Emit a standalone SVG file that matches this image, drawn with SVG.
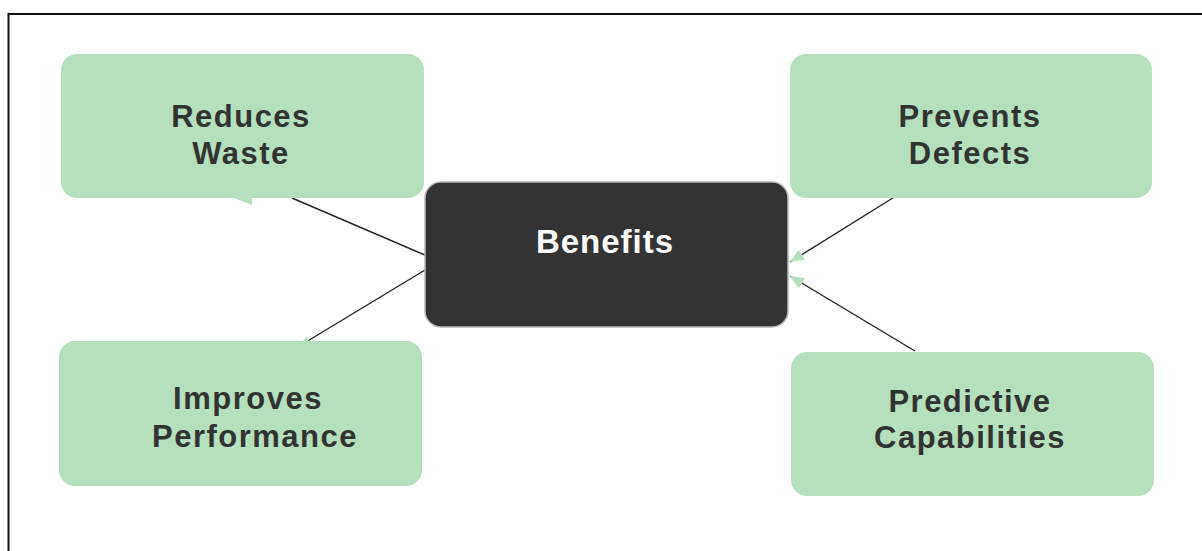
<svg xmlns="http://www.w3.org/2000/svg" width="1202" height="551" viewBox="0 0 1202 551">
  <style>
    .leaf rect { fill: #b6e0bd; }
    .leaf text, .hub text { font-family: "Liberation Sans", Arial, sans-serif; font-weight: bold; text-anchor: middle; }
    .leaf text { font-size: 31px; fill: #333333; letter-spacing: 1.5px; }
    .hub rect { fill: #333333; stroke: #b8b8b8; stroke-width: 1.5; }
    .hub text { font-size: 33px; fill: #ffffff; letter-spacing: 1px; }
    .link { stroke: #222222; stroke-width: 1.4; fill: none; }
    .tip { fill: #b6e0bd; }
  </style>
  <defs>
    <marker id="arrow" viewBox="0 0 14 12" refX="14" refY="6" markerWidth="14" markerHeight="12" markerUnits="userSpaceOnUse" orient="auto">
      <path d="M0,0 L14,6 L0,12 Z" class="tip"/>
    </marker>
  </defs>

  <rect width="1202" height="551" fill="#ffffff"/>
  <!-- frame: only the top and left edges fall inside the canvas -->
  <rect x="8.5" y="14" width="1210" height="560" fill="none" stroke="#111111" stroke-width="2"/>

  <g id="connectors">
    <line class="link" x1="427" y1="256" x2="292" y2="198"/>
    <path class="tip" d="M234,198 L252,198 L252,205 Z"/>
    <line class="link" x1="425" y1="270" x2="306" y2="342"/>
    <path class="tip" d="M302,342 L307,336 L309,342 Z"/>
    <line class="link" x1="896" y1="196" x2="790" y2="262" marker-end="url(#arrow)"/>
    <line class="link" x1="915" y1="351" x2="790" y2="276" marker-end="url(#arrow)"/>
  </g>

  <g id="node-reduces-waste" class="leaf">
    <rect x="61" y="54" width="363" height="144" rx="16"/>
    <text x="241" y="127">Reduces</text>
    <text x="241" y="164">Waste</text>
  </g>

  <g id="node-prevents-defects" class="leaf">
    <rect x="790" y="54" width="362" height="144" rx="16"/>
    <text x="970" y="127">Prevents</text>
    <text x="970" y="164">Defects</text>
  </g>

  <g id="node-improves-performance" class="leaf">
    <rect x="59" y="341" width="363" height="145" rx="16"/>
    <text x="248" y="409">Improves</text>
    <text x="255" y="447">Performance</text>
  </g>

  <g id="node-predictive-capabilities" class="leaf">
    <rect x="791" y="352" width="363" height="144" rx="16"/>
    <text x="970" y="412">Predictive</text>
    <text x="970" y="448">Capabilities</text>
  </g>

  <g id="node-benefits" class="hub">
    <rect x="425" y="182" width="363" height="145" rx="16"/>
    <text x="605" y="253">Benefits</text>
  </g>
</svg>
